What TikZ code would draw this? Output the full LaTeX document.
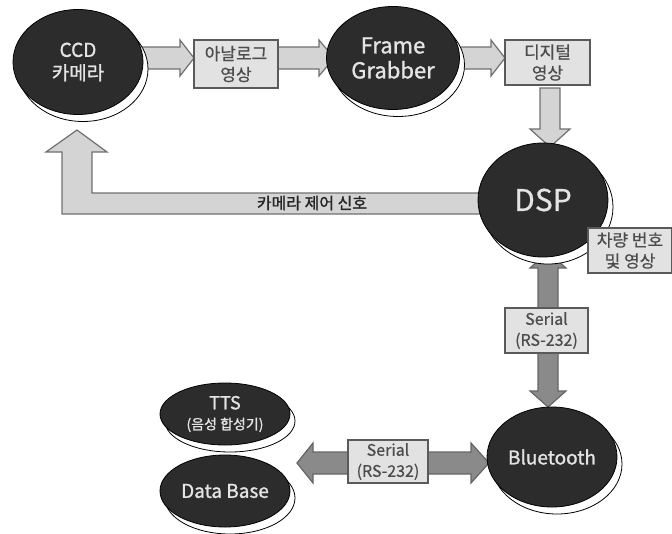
\documentclass[tikz,border=0pt]{standalone}
\usepackage{fontspec}
\setmainfont{Noto Sans CJK KR}
\newfontfamily\medfont{Noto Sans CJK KR}[FakeBold=1.2]
\newfontfamily\semifont{Noto Sans CJK KR}[FakeBold=0.6]
\usetikzlibrary{shapes.geometric,backgrounds}
\definecolor{blobfill}{HTML}{2C2C2C}
\definecolor{blobtext}{HTML}{E4E4E4}
\definecolor{boxfill}{HTML}{E2E2E2}
\definecolor{boxdraw}{HTML}{5A5A5A}
\definecolor{lightarrow}{HTML}{D4D4D4}
\definecolor{lightedge}{HTML}{707070}
\definecolor{darkarrow}{HTML}{8A8A8A}
\definecolor{darkedge}{HTML}{666666}
\begin{document}
\begin{tikzpicture}[x=1pt,y=-1pt,
  blob/.style={ellipse, inner sep=0pt, fill=blobfill, draw=black, line width=0.8pt,
    text=blobtext, align=center,
    preaction={draw=black, fill=white, line width=0.8pt,
      transform canvas={shift={(5pt,-7pt)}}}},
  infobox/.style={rectangle, inner sep=0pt, fill=boxfill, draw=boxdraw, line width=1.3pt,
    align=center, text=black!70, font=\semifont\fontsize{17}{21}\selectfont},
  lightarr/.style={fill=lightarrow, draw=lightedge, line width=1.2pt, line join=miter},
  darkarr/.style={fill=darkarrow, draw=darkedge, line width=1.2pt, line join=miter}]
\useasboundingbox (0,0) rectangle (672,533);

% ellipses
\node[blob, minimum width=130pt, minimum height=105pt, font=\medfont\fontsize{19}{23}\selectfont] (ccd) at (78,62) {CCD\\카메라};
\node[blob, minimum width=133pt, minimum height=103pt, font=\medfont\fontsize{22}{25}\selectfont] (fg) at (393,58) {Frame\\Grabber};
\node[blob, minimum width=130pt, minimum height=114pt, font=\semifont\fontsize{30}{32}\selectfont] (dsp) at (543,200) {DSP};
\node[blob, minimum width=130pt, minimum height=100pt, font=\medfont\fontsize{19}{22}\selectfont] (bt) at (552,457) {Bluetooth};
\node[blob, minimum width=130pt, minimum height=62pt, font=\medfont\fontsize{18}{20}\selectfont] (tts) at (225,414) {TTS\\{\fontsize{14}{16}\selectfont (음성 합성기)}};
\node[blob, minimum width=130pt, minimum height=72pt, font=\medfont\fontsize{19}{22}\selectfont] (db) at (225,491) {Data Base};

% boxes
\node[infobox, minimum width=84pt, minimum height=48pt] (analog) at (236,64) {아날로그\\영상};
\node[infobox, minimum width=85pt, minimum height=45pt] (digital) at (547.5,62.5) {디지털\\영상};
\node[infobox, minimum width=84pt, minimum height=45pt] (carnum) at (630,250.5) {차량 번호\\및 영상};
\node[infobox, minimum width=83pt, minimum height=45pt, font=\semifont\fontsize{16}{21}\selectfont] (ser1) at (546.5,330.5) {Serial\\(RS-232)};
\node[infobox, minimum width=80pt, minimum height=43pt, font=\semifont\fontsize{16}{21}\selectfont] (ser2) at (388,461.5) {Serial\\(RS-232)};

\node[font=\medfont\fontsize{16}{18}\selectfont, text=black!85, inner sep=0pt] (ctrl) at (312,203) {카메라 제어 신호};

\begin{scope}[on background layer]
  % CCD -> analog
  \draw[lightarr] (140,47) -- (180,47) -- (180,40) -- (194,58) -- (180,76) -- (180,69) -- (140,69) -- cycle;
  % analog -> frame grabber
  \draw[lightarr] (278,47) -- (319,47) -- (319,40) -- (334,58) -- (319,76) -- (319,69) -- (278,69) -- cycle;
  % frame grabber -> digital
  \draw[lightarr] (455,47) -- (491,47) -- (491,40) -- (505,58) -- (491,76) -- (491,69) -- (455,69) -- cycle;
  % digital -> DSP
  \draw[lightarr] (540,88) -- (560,88) -- (560,129) -- (570,129) -- (550,147) -- (530,129) -- (540,129) -- cycle;
  % DSP -> CCD (control)
  \draw[lightarr] (482,193) -- (92,193) -- (92,152) -- (107,152) -- (77,130) -- (46,152) -- (62,152) -- (62,214) -- (482,214) -- cycle;
  % DSP <-> Bluetooth
  \draw[darkarr] (548,252) -- (566,268) -- (558,268) -- (558,391) -- (566,391) -- (548,407) -- (530,391) -- (538,391) -- (538,268) -- (530,268) -- cycle;
  % TTS/DB <-> Bluetooth
  \draw[darkarr] (297,463) -- (313,443) -- (313,452) -- (471,452) -- (471,443) -- (489,463) -- (471,483) -- (471,474) -- (313,474) -- (313,483) -- cycle;
\end{scope}
\end{tikzpicture}
\end{document}
